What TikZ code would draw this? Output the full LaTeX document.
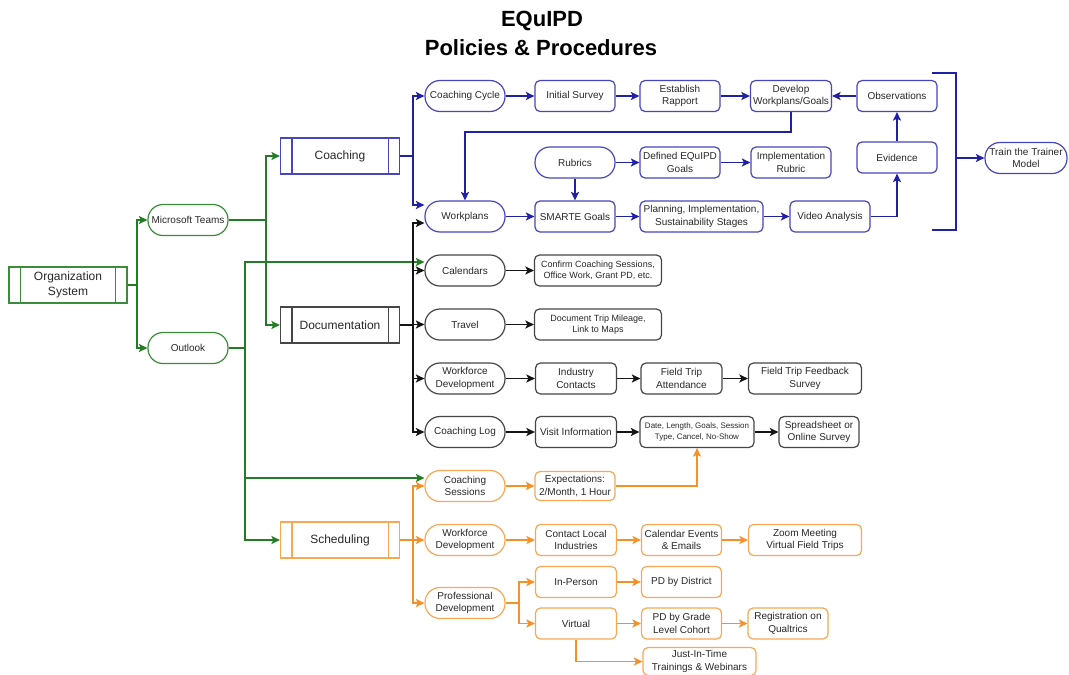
\documentclass[tikz,border=0pt]{standalone}
\usepackage{fontspec}
\setmainfont{Liberation Sans}
\usetikzlibrary{arrows.meta}

\definecolor{grnL}{RGB}{36,125,36}
\definecolor{grnB}{RGB}{60,140,60}
\definecolor{bluL}{RGB}{32,32,165}
\definecolor{bluB}{RGB}{70,70,190}
\definecolor{blkL}{RGB}{20,20,20}
\definecolor{blkB}{RGB}{70,70,70}
\definecolor{orgL}{RGB}{245,145,40}
\definecolor{orgB}{RGB}{248,168,85}
\definecolor{txt}{RGB}{40,40,40}

\tikzset{
  fnt/.style={font=\fontsize{10}{12.5}\selectfont},
  fnts/.style={font=\fontsize{9}{11.5}\selectfont},
  fntxs/.style={font=\fontsize{8}{11}\selectfont},
  basebox/.style={draw, line width=1.2pt, fill=white, text=txt, align=center,
    inner sep=1pt, minimum height=31pt, minimum width=80pt, fnt},
  rbox/.style={basebox, rounded corners=5pt},
  pill/.style={basebox, rounded corners=15pt},
  proc/.style={basebox, minimum height=36pt, minimum width=119pt,
    font=\fontsize{12}{14.5}\selectfont},
  seg/.style={line width=1.7pt},
  conn/.style={line width=1.7pt, -{Stealth[length=8.5pt,width=8pt,inset=2pt]}},
  gbox/.style={draw=grnB}, bbox/.style={draw=bluB},
  kbox/.style={draw=blkB}, obox/.style={draw=orgB},
}

\begin{document}
\begin{tikzpicture}[x=1pt,y=-1pt]
\useasboundingbox[fill=white] (0,0) rectangle (1069,675);

% title
\node[anchor=base, font=\fontsize{22}{26}\bfseries\selectfont, text=black] (title1) at (542,26.7) {EQuIPD};
\node[anchor=base, font=\fontsize{22}{26}\bfseries\selectfont, text=black] (title2) at (541,55) {Policies \& Procedures};

% ---------- entry level ----------
\node[proc, gbox, minimum width=118pt] (orgsys) at (68,285) {Organization\\System};
\node[pill, gbox] (teams) at (188,220) {Microsoft Teams};
\node[pill, gbox] (outlook) at (188,348) {Outlook};

\node[proc, bbox] (coach) at (340,156) {Coaching};
\node[proc, kbox] (doc) at (340,325) {Documentation};
\node[proc, obox] (sched) at (340,540) {Scheduling};

% double side bars of the process boxes
\foreach \n/\c in {orgsys/grnB, coach/bluB, doc/blkB, sched/orgB}{
  \draw[\c, line width=1.2pt] ([xshift=12pt]\n.north west) -- ([xshift=12pt]\n.south west)
    ([xshift=-12pt]\n.north east) -- ([xshift=-12pt]\n.south east);
}

% ---------- coaching ----------
\node[pill, bbox] (ccycle) at (465,96) {Coaching Cycle};
\node[pill, bbox] (workplans) at (465,216.5) {Workplans};
\node[rbox, bbox] (isurvey) at (575,96) {Initial Survey};
\node[rbox, bbox] (rapport) at (680,96) {Establish\\Rapport};
\node[rbox, bbox, minimum width=81pt] (develop) at (791,96) {Develop\\Workplans/Goals};
\node[rbox, bbox] (observ) at (897,96) {Observations};
\node[rbox, bbox] (evidence) at (897,157.5) {Evidence};
\node[pill, bbox] (rubrics) at (575,162.5) {Rubrics};
\node[rbox, bbox] (defined) at (680,162.5) {Defined EQuIPD\\Goals};
\node[rbox, bbox] (implrub) at (791,162.5) {Implementation\\Rubric};
\node[rbox, bbox] (smarte) at (575,216.5) {SMARTE Goals};
\node[rbox, bbox, minimum width=123pt] (planning) at (701.5,216.5) {Planning, Implementation,\\Sustainability Stages};
\node[rbox, bbox] (video) at (830,216.5) {Video Analysis};
\node[pill, bbox, minimum width=82pt] (train) at (1026,158) {Train the Trainer\\Model};

% ---------- documentation ----------
\node[pill, kbox] (calendars) at (465,270.5) {Calendars};
\node[pill, kbox] (travel) at (465,324.5) {Travel};
\node[pill, kbox] (wfdev) at (465,378.5) {Workforce\\Development};
\node[pill, kbox] (clog) at (465,432) {Coaching Log};
\node[rbox, kbox, fnts, minimum width=127pt] (confirm) at (598,270.5) {Confirm Coaching Sessions,\\Office Work, Grant PD, etc.};
\node[rbox, kbox, fnts, minimum width=127pt] (mileage) at (598,324.5) {Document Trip Mileage,\\Link to Maps};
\node[rbox, kbox, minimum width=81pt] (industry) at (576,378.5) {Industry\\Contacts};
\node[rbox, kbox, minimum width=81pt] (attend) at (681.5,378.5) {Field Trip\\Attendance};
\node[rbox, kbox, minimum width=113pt] (feedback) at (805,378.5) {Field Trip Feedback\\Survey};
\node[rbox, kbox, minimum width=81pt] (visit) at (576,432) {Visit Information};
\node[rbox, kbox, fntxs, minimum width=114pt] (details) at (697,432) {Date, Length, Goals, Session\\Type, Cancel, No-Show};
\node[rbox, kbox] (sheet) at (819,432) {Spreadsheet or\\Online Survey};

% ---------- scheduling ----------
\node[pill, obox] (csess) at (465,486) {Coaching\\Sessions};
\node[pill, obox] (owf) at (465,540) {Workforce\\Development};
\node[pill, obox] (profdev) at (465,603) {Professional\\Development};
\node[rbox, obox, minimum height=29pt] (expect) at (575,486) {Expectations:\\2/Month, 1 Hour};
\node[rbox, obox, minimum width=81pt] (contact) at (576,540) {Contact Local\\Industries};
\node[rbox, obox] (calev) at (681.5,540) {Calendar Events\\\& Emails};
\node[rbox, obox, minimum width=113pt] (zoommeet) at (805,540) {Zoom Meeting\\Virtual Field Trips};
\node[rbox, obox, minimum width=81pt] (inperson) at (576,582) {In-Person};
\node[rbox, obox] (pddist) at (681.5,582) {PD by District};
\node[rbox, obox, minimum width=81pt] (virtual) at (576,623.5) {Virtual};
\node[rbox, obox] (pdgrade) at (681.5,623.5) {PD by Grade\\Level Cohort};
\node[rbox, obox] (qualtrics) at (788,623.5) {Registration on\\Qualtrics};
\node[rbox, obox, minimum width=113pt, minimum height=28pt] (jit) at (699.5,661.5) {Just-In-Time\\Trainings \& Webinars};

% ---------- junction points ----------
\coordinate (gOrg) at (137,285);
\coordinate (gTeams) at (266,220);
\coordinate (gOut) at (245,348);
\coordinate (bBus) at (413,156);
\coordinate (kBus) at (413,325);
\coordinate (oBus) at (413,540);
\coordinate (oPD) at (519,603);
\coordinate (brT) at (932,73);
\coordinate (brTR) at (956,73);
\coordinate (brBR) at (956,230);
\coordinate (brB) at (932,230);
\coordinate (brM) at (956,158);

% ---------- green connectors ----------
\begin{scope}[grnL]
\draw[seg] (orgsys.east) -- (gOrg);
\draw[conn] (gOrg) |- (teams.west);
\draw[conn] (gOrg) |- (outlook.west);
\draw[seg] (teams.east) -- (gTeams);
\draw[conn] (gTeams) |- (coach.west);
\draw[conn] (gTeams) |- (doc.west);
\draw[seg] (outlook.east) -- (gOut);
\draw[conn] (gOut) |- ([yshift=8.5pt]calendars.west);
\draw[conn] (gOut) |- ([yshift=8pt]csess.west);
\draw[conn] (gOut) |- (sched.west);
\end{scope}

% ---------- blue connectors ----------
\begin{scope}[bluL]
\draw[seg] (coach.east) -- (bBus);
\draw[conn] (bBus) |- (ccycle.west);
\draw[conn] (bBus) |- ([yshift=11.5pt]workplans.west);
\draw[conn] (ccycle) -- (isurvey);
\draw[conn] (isurvey) -- (rapport);
\draw[conn] (rapport) -- (develop);
\draw[conn] (develop.south) -- ++(0,20) -| (workplans.north);
\draw[conn] (observ) -- (develop);
\draw[conn] (evidence) -- (observ);
\draw[conn] (video.east) -| (evidence.south);
\draw[conn] (workplans) -- (smarte);
\draw[conn] (rubrics) -- (smarte);
\draw[conn] (rubrics) -- (defined);
\draw[conn] (defined) -- (implrub);
\draw[conn] (smarte) -- (planning);
\draw[conn] (planning) -- (video);
\draw[seg] (brT) -- (brTR) -- (brBR) -- (brB);
\draw[conn] (brM) -- (train.west);
\end{scope}

% ---------- black connectors ----------
\begin{scope}[blkL]
\draw[seg] (doc.east) -- (kBus);
\draw[conn] (kBus) |- ([yshift=-6.5pt]workplans.west);
\draw[conn] (kBus) |- (calendars.west);
\draw[conn] (kBus) |- (travel.west);
\draw[conn] (kBus) |- (wfdev.west);
\draw[conn] (kBus) |- (clog.west);
\draw[conn] (calendars) -- (confirm);
\draw[conn] (travel) -- (mileage);
\draw[conn] (wfdev) -- (industry);
\draw[conn] (industry) -- (attend);
\draw[conn] (attend) -- (feedback);
\draw[conn] (clog) -- (visit);
\draw[conn] (visit) -- (details);
\draw[conn] (details) -- (sheet);
\end{scope}

% ---------- orange connectors ----------
\begin{scope}[orgL]
\draw[seg] (sched.east) -- (oBus);
\draw[conn] (oBus) |- (csess.west);
\draw[conn] (oBus) -- (owf.west);
\draw[conn] (oBus) |- (profdev.west);
\draw[conn] (csess) -- (expect);
\draw[conn] (expect.east) -| (details.south);
\draw[conn] (owf) -- (contact);
\draw[conn] (contact) -- (calev);
\draw[conn] (calev) -- (zoommeet);
\draw[seg] (profdev.east) -- (oPD);
\draw[conn] (oPD) |- (inperson.west);
\draw[conn] (oPD) |- (virtual.west);
\draw[conn] (inperson) -- (pddist);
\draw[conn] (virtual) -- (pdgrade);
\draw[conn] (pdgrade) -- (qualtrics);
\draw[conn] (virtual.south) |- (jit.west);
\end{scope}
\end{tikzpicture}
\end{document}
